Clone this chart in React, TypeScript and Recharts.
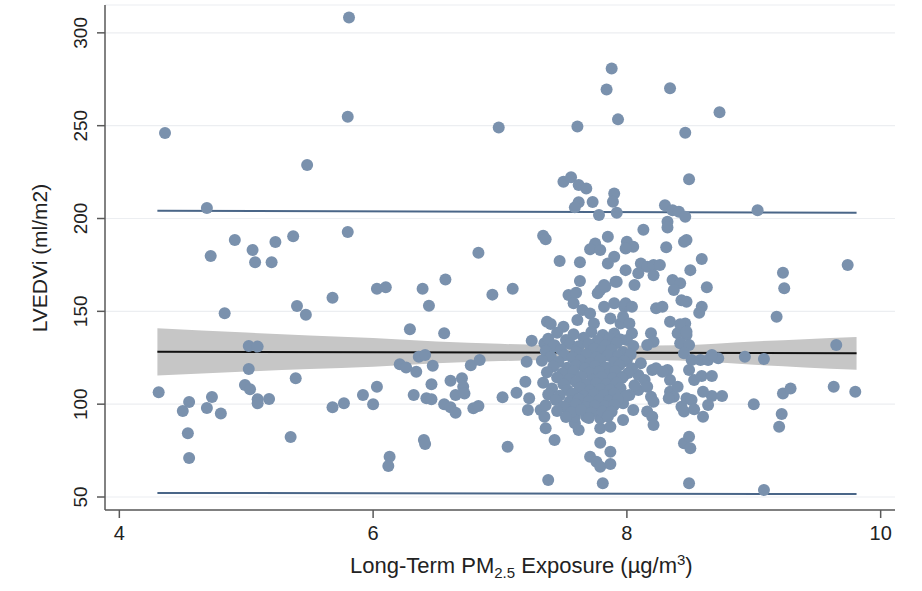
import React from "react";
import { ComposedChart, XAxis, YAxis, CartesianGrid, Scatter, Line, Area } from "recharts";

const xTicks = [4, 6, 8, 10];
const yTicks = [50, 100, 150, 200, 250, 300];

const pointsLow: [number, number][] = [
  [4.31,106.4],[4.36,246],[4.5,96.3],[4.55,101.2],[4.54,84.3],[4.55,71],[4.69,205.6],[4.69,98],[4.72,179.8],[4.73,103.9],
  [4.8,95],[4.83,149],[4.91,188.4],[5.02,131.3],[5.09,131],[5.02,119],[4.99,110.3],[5.03,108],[5.09,102.6],[5.09,100.5],
  [5.18,102.8],[5.05,183],[5.07,176.5],[5.2,176.5],[5.23,187.3],[5.35,82.3],[5.37,190.5],[5.39,114],[5.4,152.9],[5.47,148.2],
  [5.48,228.8],[5.68,157.3],[5.68,98.3],[5.77,100.5],[5.8,192.7],[5.8,254.8],[5.81,308.3],[5.92,104.9],[6.0,99.9],[6.03,109.4],
  [6.03,162.2],[6.1,163],[6.13,71.7],[6.12,66.7],[6.21,121.5],[6.26,119.8],[6.29,140.3],[6.32,104.9],[6.34,117.5],[6.36,125.5],
  [6.41,126.5],[6.39,162.2],[6.44,153],[6.4,80.7],[6.41,78.5],[6.42,103.2],[6.46,102.6],[6.46,110.7],[6.47,120.7],[6.56,138.2],
  [6.57,167.2],[6.56,99.9],[6.61,98.3],[6.61,112.6],[6.65,95.4],[6.65,104.9],[6.7,113.9],[6.71,109.4],[6.72,105.8],[6.77,121],
  [6.79,97.8],[6.83,99],[6.83,181.6],[6.84,123.8],[6.94,159],[6.99,249],[7.02,103.7],[7.06,77.1],[7.1,162.2],[7.13,106.2],
  [7.2,112.1],[7.21,122.9],[7.22,96.9],[7.23,103.2]
];

const pointsMid: [number, number][] = [
  [7.25,134.2],[7.37,144.4],[7.4,143.2],[7.5,141.7],[7.34,190.7],[7.36,188.8],[7.38,59.2],[7.36,87],[7.43,80.7],[7.32,96.9],
  [7.35,93.2],[7.47,177.1],[7.5,219.8],[7.56,222.2],[7.62,218],[7.68,216.2],[7.61,249.6],[7.62,208.7],[7.59,206],[7.73,208.9],
  [7.78,201.9],[7.63,176.4],[7.63,166.3],[7.54,158.8],[7.6,160],[7.74,184.8],[7.75,186.6],[7.71,183.4],[7.79,183],[7.77,159.7],
  [7.9,213.5],[7.89,209],[7.92,203.1],[7.85,190.2],[8.0,187.5],[7.9,179.4],[7.85,175.8],[7.99,172.2],[7.92,166],[7.82,164.2],
  [7.79,161.5],[7.58,154.3],[7.65,150.7],[7.71,148.9],[7.82,152.5],[7.9,154.3],[7.98,152.5],[7.61,145.3],[7.74,143.5],[7.87,146.2],
  [7.95,143.5],[7.88,280.8],[7.84,269.5],[7.93,253.4],[8.34,270.1],[8.73,257.2],[8.46,246.2],[8.49,221.1],[8.3,207.2],[8.36,204.5],
  [8.41,203.6],[8.46,200.9],[8.32,198.2],[8.32,195.2],[8.13,194],[8.05,184.8],[7.99,183.9],[8.31,184.5],[8.45,187.5],[8.47,188.4],
  [8.59,178.2],[8.11,175.8],[8.16,174],[8.21,174.9],[8.26,174.9],[8.09,170.5],[8.21,169.5],[8.5,172.2],[8.06,164.2],[8.36,166.9],
  [8.42,165.1],[8.37,161.5],[8.63,163],[8.43,156],[8.47,155.2],[8.23,151.6],[8.28,152.5],[8.59,152.5],[8.57,149.2],[7.99,154.3],
  [8.04,152.5],[7.97,147.1],[8.02,143.5],[8.34,144.4],[8.46,143.5],[9.03,204.5],[9.23,170.8],[9.24,162.4],[9.74,174.9],[7.91,166],
  [7.83,163.3],[7.42,131],[7.35,132.8]
];

const pointsLowerMid: [number, number][] = [
  [7.62,86.1],[7.59,89.7],[7.79,87],[7.87,87.9],[7.79,79.2],[7.71,71.7],[7.76,69],[7.79,66.3],[7.87,74.4],[7.87,67.8],
  [7.81,57.4],[7.59,93.2],[7.68,93.2],[7.79,92.4]
];

const pointsRight: [number, number][] = [
  [8.04,138.2],[8.0,134.5],[8.19,138.2],[8.21,133.6],[8.16,131.9],[8.4,138.2],[8.47,137.2],[8.42,132.8],[8.49,131.9],[8.45,127.4],
  [8.51,123.8],[8.58,123.8],[8.49,118.4],[8.53,113],[8.64,123.8],[8.59,115.2],[8.67,104.4],[8.6,106.7],[8.64,99.5],[8.6,93.2],
  [8.43,98.6],[8.47,103.2],[8.51,102.2],[8.45,96],[8.53,97.2],[8.34,106.7],[8.37,104],[8.33,103.2],[8.32,118.4],[8.34,113],
  [8.4,109.4],[8.2,118.4],[8.23,119.3],[8.28,117.5],[8.11,122],[8.09,115.7],[8.14,113],[8.0,123.8],[7.97,114.8],[8.09,107.6],
  [8.16,109.4],[8.19,104],[8.21,101.3],[8.16,96],[8.2,93.2],[8.21,88.8],[7.97,100.5],[7.97,91.5],[8.02,104.9],[8.05,96.9],
  [8.45,78.9],[8.49,82.4],[8.5,76.2],[8.49,57.4],[8.42,143],[8.47,139],
  [9.18,147.1],[9.65,131.9],[8.93,125.5],[9.08,124.3],[8.72,124.7],[8.67,126.5],[8.67,115.2],[8.75,104.4],[9.0,99.9],[9.23,105.8],
  [9.29,108.5],[9.22,94.7],[9.2,87.9],[9.63,109.4],[9.8,106.7],[9.08,53.8]
];

const pointsCluster: [number, number][] = [
  [7.45,138.5],[7.58,137.6],[7.72,138.9],[7.81,137.2],[7.9,138.1],
  [7.38,135.3],[7.52,134.6],[7.66,135.8],[7.77,134.2],[7.86,135.5],[7.95,134.9],
  [7.43,131.8],[7.55,132.6],[7.62,131.2],[7.7,132.4],[7.83,131.6],[7.92,132.9],[8.05,131.4],
  [7.36,128.7],[7.48,129.5],[7.6,128.2],[7.74,129.8],[7.8,128.5],[7.88,129.3],[7.97,128.1],
  [7.4,125.6],[7.51,126.4],[7.57,125.1],[7.68,126.7],[7.76,125.3],[7.85,126.2],[7.93,125.8],[8.03,126.9],
  [7.33,123.4],[7.46,122.7],[7.63,123.5],[7.71,122.2],[7.79,123.9],[7.9,122.6],[7.98,123.1],
  [7.42,120.3],[7.53,119.6],[7.6,120.8],[7.67,119.2],[7.75,120.5],[7.83,119.8],[7.94,120.9],[8.04,119.4],
  [7.37,117.2],[7.49,116.5],[7.58,117.8],[7.7,116.9],[7.78,117.4],[7.86,116.3],[7.91,117.9],[8.01,116.8],
  [7.45,114.3],[7.55,113.6],[7.64,114.8],[7.73,113.2],[7.8,114.5],[7.89,113.9],[7.96,114.1],
  [7.34,111.5],[7.5,110.7],[7.6,111.9],[7.68,110.4],[7.76,111.2],[7.84,110.8],[7.92,111.6],[8.06,110.2],
  [7.41,108.4],[7.53,107.6],[7.63,108.9],[7.71,107.3],[7.79,108.2],[7.87,107.8],[7.95,108.6],
  [7.38,105.2],[7.47,104.6],[7.57,105.7],[7.66,104.3],[7.74,105.4],[7.82,104.9],[7.9,105.8],[7.99,104.2],
  [7.44,102.3],[7.55,101.6],[7.62,102.8],[7.7,101.4],[7.78,102.1],[7.86,101.9],[7.93,102.6],
  [7.36,99.4],[7.5,98.7],[7.6,99.8],[7.68,98.3],[7.75,99.2],[7.83,98.9],[7.9,99.6],
  [7.45,96.3],[7.56,95.7],[7.64,96.8],[7.72,95.4],[7.81,96.1],[7.88,95.9],
  [7.52,93.1],[7.7,92.6],[7.85,93.4]
];

// confidence band of fitted line
const bandX = [4.3, 5.0, 5.5, 6.0, 6.5, 7.0, 7.7, 8.4, 9.0, 9.4, 9.81];
const bandLow = [115.5, 117.6, 119.0, 120.2, 122.0, 123.2, 124.0, 123.5, 121.2, 119.8, 118.6];
const bandHigh = [140.9, 138.6, 137.0, 135.6, 133.8, 132.5, 131.5, 131.8, 133.8, 135.0, 136.2];

const fitX = [4.3, 9.81];
const fitY = [128.2, 127.4];
const upperPI = [204.2, 203.1];
const lowerPI = [52.2, 51.6];

const scatterData = [...pointsLow, ...pointsMid, ...pointsLowerMid, ...pointsRight, ...pointsCluster].map(([x, y]) => ({ x, y }));
const bandData = bandX.map((x, i) => ({ x, band: [bandLow[i], bandHigh[i]] }));
const fitData = fitX.map((x, i) => ({ x, y: fitY[i] }));
const upperData = fitX.map((x, i) => ({ x, y: upperPI[i] }));
const lowerData = fitX.map((x, i) => ({ x, y: lowerPI[i] }));

const FONT = "'Liberation Sans', Arial, sans-serif";
const POINT = "#7a91ad";
const PI_COLOR = "#4a6688";
const AXIS = "#595959";

const Dot = (p: any) => <circle cx={p.cx} cy={p.cy} r={6} fill={POINT} />;

const YTick = (p: any) => (
  <g transform={`translate(${p.x - 8},${p.y}) rotate(-90)`}>
    <text x={0} y={0} textAnchor="middle" fontSize={19} fill="#222" fontFamily={FONT}>
      {p.payload.value}
    </text>
  </g>
);

export default function App() {
  return (
    <div style={{ position: "absolute", left: 0, top: 0, width: 922, height: 591, background: "#fff" }}>
      <ComposedChart width={922} height={591} margin={{ top: 5, right: 27, left: 45, bottom: 41 }}>
        <CartesianGrid vertical={false} stroke="#eceef1" strokeWidth={1.2} />
        <XAxis
          type="number"
          dataKey="x"
          domain={[3.887, 10.113]}
          ticks={xTicks}
          allowDataOverflow
          height={40}
          tickSize={8}
          tickMargin={8}
          stroke={AXIS}
          strokeWidth={1.5}
          tick={{ fontSize: 20, fill: "#222", fontFamily: FONT }}
        />
        <YAxis
          type="number"
          dataKey="y"
          domain={[43, 315]}
          ticks={yTicks}
          allowDataOverflow
          width={60}
          tickSize={8}
          stroke={AXIS}
          strokeWidth={1.5}
          tick={<YTick />}
        />
        <Area
          data={bandData}
          dataKey="band"
          type="monotone"
          stroke="none"
          fill="#c6c6c6"
          fillOpacity={1}
          isAnimationActive={false}
          dot={false}
          activeDot={false}
        />
        <Scatter data={scatterData} dataKey="y" shape={Dot} isAnimationActive={false} />
        <Line data={fitData} dataKey="y" type="linear" stroke="#111" strokeWidth={2} dot={false} activeDot={false} isAnimationActive={false} />
        <Line data={upperData} dataKey="y" type="linear" stroke={PI_COLOR} strokeWidth={2} dot={false} activeDot={false} isAnimationActive={false} />
        <Line data={lowerData} dataKey="y" type="linear" stroke={PI_COLOR} strokeWidth={2} dot={false} activeDot={false} isAnimationActive={false} />
      </ComposedChart>
      <svg width={922} height={591} style={{ position: "absolute", left: 0, top: 0, pointerEvents: "none" }}>
        <text x={350} y={573} fontSize={22} fill="#222" fontFamily={FONT}>
          Long-Term PM<tspan dy={5} fontSize={15}>2.5</tspan>
          <tspan dy={-5} fontSize={22}> Exposure (µg/m</tspan>
          <tspan dy={-8} fontSize={15}>3</tspan>
          <tspan dy={8} fontSize={22}>)</tspan>
        </text>
        <g transform="translate(47,258) rotate(-90)">
          <text x={0} y={0} textAnchor="middle" fontSize={21} fill="#222" fontFamily={FONT}>
            LVEDVi (ml/m2)
          </text>
        </g>
      </svg>
    </div>
  );
}
